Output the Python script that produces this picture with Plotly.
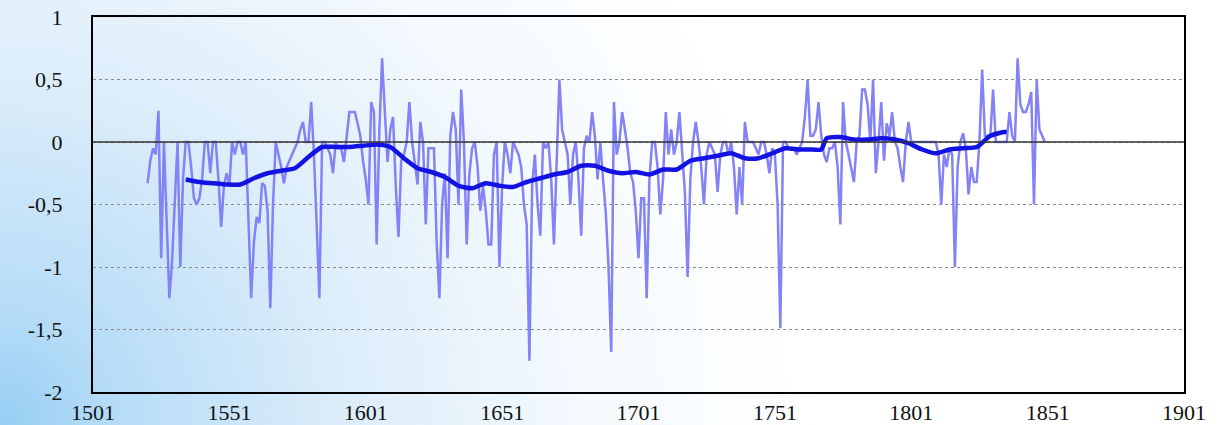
import base64
import plotly.graph_objects as go

# ---------------- data ----------------
years = list(range(1521, 1851))
values = [
    -0.33, -0.15, -0.05, -0.1, 0.25, -0.93, 0, -0.6, -1.25, -0.95,      # 1521-1530
    -0.5, 0, -1.0, -0.3, 0, 0, -0.2, -0.45, -0.5, -0.45,                # 1531-1540
    -0.3, 0, 0, -0.25, 0, 0, -0.3, -0.68, -0.35, -0.25,                 # 1541-1550
    -0.35, 0, -0.1, 0, 0, -0.1, 0, -0.6, -1.25, -0.8,                   # 1551-1560
    -0.6, -0.65, -0.33, -0.35, -0.55, -1.33, -0.5, 0, -0.1, -0.2,       # 1561-1570
    -0.33, -0.2, -0.15, -0.1, -0.05, 0, 0.1, 0.16, 0, 0,                # 1571-1580
    0.32, -0.1, -0.66, -1.25, 0, 0, -0.05, -0.1, -0.25, 0,              # 1581-1590
    -0.05, -0.05, -0.16, 0.05, 0.24, 0.24, 0.24, 0.15, 0.05, -0.15,     # 1591-1600
    -0.3, -0.5, 0.32, 0.24, -0.82, 0.1, 0.67, 0.24, -0.16, 0.1,         # 1601-1610
    0.2, -0.35, -0.76, -0.15, -0.1, 0, 0.32, 0, -0.16, -0.34,           # 1611-1620
    0.16, 0, -0.66, -0.05, -0.05, -0.05, -0.8, -1.25, -0.5, -0.25,      # 1621-1630
    -0.93, 0.05, 0.24, 0.1, -0.5, 0.42, 0, -0.82, -0.25, -0.05,         # 1631-1640
    0, -0.2, -0.55, -0.35, -0.55, -0.82, -0.82, -0.1, 0, -1.0,          # 1641-1650
    -0.35, 0, -0.1, -0.25, 0, -0.05, -0.1, -0.2, -0.5, -0.66,           # 1651-1660
    -1.75, -0.35, -0.1, -0.5, -0.75, 0, -0.05, 0, -0.3, -0.82,          # 1661-1670
    -0.1, 0.5, 0.1, 0, -0.1, -0.5, -0.1, 0, -0.3, -0.75,                # 1671-1680
    -0.05, 0.05, 0, 0.24, 0.05, -0.3, 0, -0.3, -0.56, -1.0,             # 1681-1690
    -1.68, 0.32, -0.1, 0, 0.24, 0.1, -0.05, -0.25, -0.32, -0.55,        # 1691-1700
    -0.93, -0.45, -0.45, -1.25, -0.3, 0, 0, -0.2, -0.58, -0.3,          # 1701-1710
    0.24, -0.1, 0.1, -0.1, 0, 0.24, -0.1, -0.4, -1.08, -0.3,            # 1711-1720
    0, 0.16, 0, -0.2, -0.5, -0.1, 0, -0.05, -0.1, -0.4,                 # 1721-1730
    -0.1, 0, 0, -0.1, 0, -0.2, -0.58, -0.2, -0.5, 0.16,                 # 1731-1740
    0, 0, 0, -0.05, -0.1, 0, 0, -0.1, -0.25, -0.05,                     # 1741-1750
    -0.1, -0.5, -1.49, 0, 0, -0.05, -0.05, -0.05, -0.1, -0.05,          # 1751-1760
    0, 0.2, 0.5, 0.05, 0.05, 0.1, 0.32, 0.05, -0.1, -0.16,              # 1761-1770
    -0.05, -0.05, 0, -0.2, -0.66, 0.32, 0, -0.1, -0.2, -0.32,           # 1771-1780
    0, 0.05, 0.42, 0.42, 0.3, 0, 0.5, -0.25, 0, 0.32,                   # 1781-1790
    -0.15, 0.15, 0.05, 0.24, 0, -0.05, -0.2, -0.32, 0, 0.16,            # 1791-1800
    0, 0, 0, 0, 0, 0, 0, 0, 0, 0,                                       # 1801-1810
    -0.1, -0.5, -0.1, -0.2, -0.05, -0.1, -1.0, -0.2, 0, 0.07,           # 1811-1820
    -0.05, -0.42, -0.2, -0.32, -0.32, 0, 0.58, 0.05, 0.05, 0.05,        # 1821-1830
    0.42, 0, 0, 0, 0, 0, 0.24, 0.05, 0, 0.67,                           # 1831-1840
    0.3, 0.24, 0.24, 0.3, 0.4, -0.5, 0.5, 0.1, 0.05, 0,                 # 1841-1850
]

smooth_years = [1535, 1540, 1545, 1550, 1555, 1560, 1565, 1570, 1575, 1580,
                1585, 1590, 1595, 1600, 1605, 1610, 1615, 1620, 1625, 1630,
                1635, 1640, 1645, 1650, 1655, 1660, 1665, 1670, 1675, 1680,
                1685, 1690, 1695, 1700, 1705, 1710, 1715, 1720, 1725, 1730,
                1735, 1740, 1745, 1750, 1755, 1760, 1765, 1768, 1770, 1775,
                1780, 1785, 1790, 1795, 1800, 1805, 1810, 1815, 1820, 1825,
                1830, 1835, 1836]
smooth_values = [-0.30, -0.32, -0.33, -0.34, -0.34, -0.29, -0.25, -0.23, -0.21, -0.12,
                 -0.04, -0.04, -0.04, -0.03, -0.02, -0.04, -0.13, -0.21, -0.24, -0.28,
                 -0.35, -0.37, -0.33, -0.35, -0.36, -0.32, -0.29, -0.26, -0.24, -0.19,
                 -0.19, -0.23, -0.25, -0.24, -0.26, -0.22, -0.22, -0.15, -0.13, -0.11,
                 -0.09, -0.13, -0.13, -0.09, -0.05, -0.06, -0.06, -0.06, 0.03, 0.04,
                 0.02, 0.02, 0.03, 0.02, -0.01, -0.06, -0.09, -0.06, -0.05, -0.04,
                 0.05, 0.08, 0.08]

x_ticks = [1501, 1551, 1601, 1651, 1701, 1751, 1801, 1851, 1901]
y_ticks = [1, 0.5, 0, -0.5, -1, -1.5, -2]
y_tick_text = ["1", "0,5", "0", "-0,5", "-1", "-1,5", "-2"]

# ---------------- layout geometry ----------------
W, H = 1222, 425
ML, MR, MT, MB = 93, 38, 17, 33
PW, PH = W - ML - MR, H - MT - MB

svg = (
    f'<svg xmlns="http://www.w3.org/2000/svg" width="{W}" height="{H}" '
    f'viewBox="0 0 {W} {H}" preserveAspectRatio="none">'
    '<defs><radialGradient id="g" gradientUnits="userSpaceOnUse" '
    f'cx="0" cy="{H}" r="820">'
    '<stop offset="0" stop-color="#96cef4"/>'
    '<stop offset="0.14" stop-color="#b6dcf7"/>'
    '<stop offset="0.42" stop-color="#dcedfa"/>'
    '<stop offset="0.72" stop-color="#f5fafe"/>'
    '<stop offset="1" stop-color="#ffffff"/>'
    '</radialGradient></defs>'
    f'<rect width="{W}" height="{H}" fill="url(#g)"/></svg>'
)
bg_src = "data:image/svg+xml;base64," + base64.b64encode(svg.encode()).decode()

fig = go.Figure()
fig.add_trace(go.Scatter(
    x=years, y=values, mode="lines",
    line=dict(color="#8383f5", width=2.5),
    hoverinfo="x+y", showlegend=False,
))
fig.add_trace(go.Scatter(
    x=smooth_years, y=smooth_values, mode="lines",
    line=dict(color="#1212e2", width=4.5, shape="spline", smoothing=0.6),
    hoverinfo="x+y", showlegend=False,
))

tick_font = dict(family="Liberation Serif", size=22, color="#111111")

fig.update_layout(
    width=W, height=H,
    margin=dict(l=ML, r=MR, t=MT, b=MB, pad=0),
    paper_bgcolor="#ffffff",
    plot_bgcolor="rgba(0,0,0,0)",
    images=[dict(
        source=bg_src, xref="paper", yref="paper",
        x=-ML / PW, y=1 + MT / PH, sizex=W / PW, sizey=H / PH,
        xanchor="left", yanchor="top", sizing="stretch", layer="below",
    )],
    xaxis=dict(
        range=[1501, 1901], tickvals=x_ticks, ticktext=[str(t) for t in x_ticks],
        showgrid=False, zeroline=False, showline=True, linecolor="#000000",
        linewidth=2, mirror=True, ticks="", tickfont=tick_font,
        ticklabelstandoff=0, automargin=False,
    ),
    yaxis=dict(
        range=[-2, 1], tickvals=y_ticks, ticktext=y_tick_text,
        showgrid=True, gridcolor="#8c8c8c", gridwidth=1.3, griddash="3px,3px",
        zeroline=False, showline=True, linecolor="#000000", linewidth=2,
        mirror=True, ticks="", tickfont=tick_font, ticklabelstandoff=24,
        automargin=False,
    ),
    shapes=[dict(
        type="line", xref="paper", yref="y", x0=0, x1=1, y0=0, y1=0,
        line=dict(color="#333333", width=1.5), layer="above",
    )],
)

fig.write_html("out.html")
